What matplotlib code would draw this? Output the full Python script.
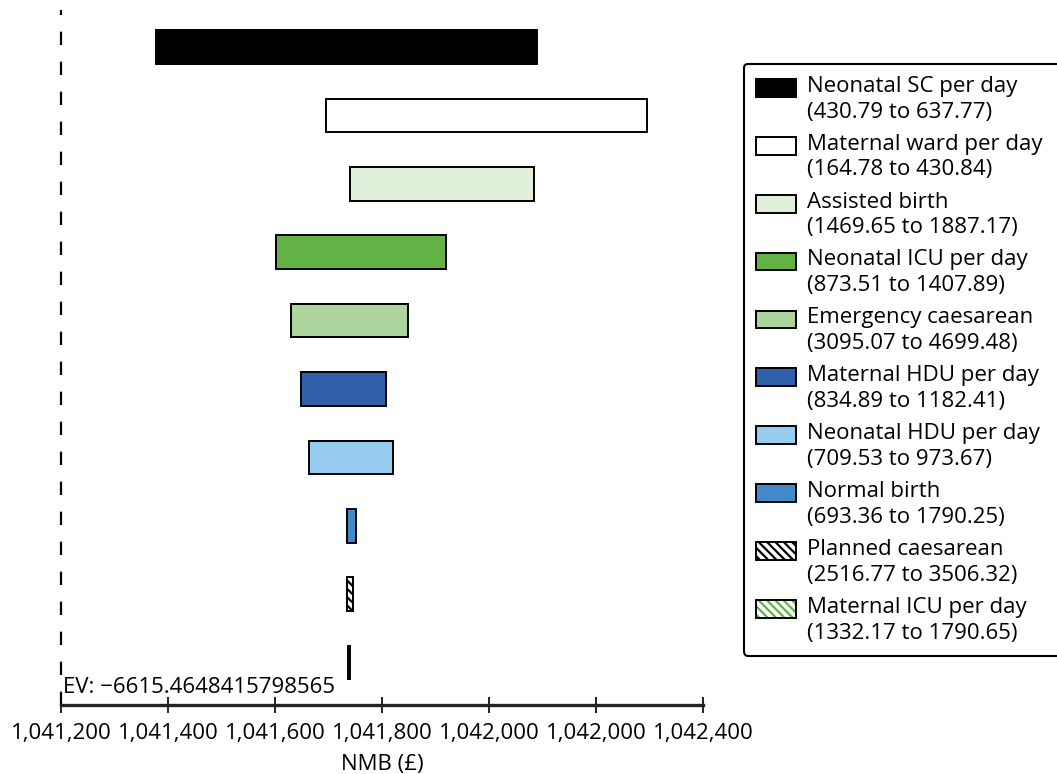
import matplotlib
matplotlib.use("Agg")
import matplotlib.pyplot as plt
from matplotlib.patches import Rectangle
from matplotlib.legend_handler import HandlerBase
from matplotlib.transforms import blended_transform_factory

plt.rcParams['font.family'] = ['Open Sans', 'DejaVu Sans']
plt.rcParams['hatch.linewidth'] = 1.6

# ---------------- data ----------------
parameters = ["Neonatal SC per day", "Maternal ward per day", "Assisted birth",
              "Neonatal ICU per day", "Emergency caesarean", "Maternal HDU per day",
              "Neonatal HDU per day", "Normal birth", "Planned caesarean",
              "Maternal ICU per day"]
ranges = ["(430.79 to 637.77)", "(164.78 to 430.84)", "(1469.65 to 1887.17)",
          "(873.51 to 1407.89)", "(3095.07 to 4699.48)", "(834.89 to 1182.41)",
          "(709.53 to 973.67)", "(693.36 to 1790.25)", "(2516.77 to 3506.32)",
          "(1332.17 to 1790.65)"]
nmb_low = [1041377, 1041695, 1041740, 1041602, 1041630, 1041648,
           1041664, 1041734, 1041734, 1041736]
nmb_high = [1042090, 1042295, 1042084, 1041919, 1041848, 1041808,
            1041821, 1041751, 1041745, 1041741]
tick_values = [1041200, 1041400, 1041600, 1041800, 1042000, 1042200, 1042400]
tick_labels = ["1,041,200", "1,041,400", "1,041,600", "1,041,800",
               "1,042,000", "1,042,000", "1,042,400"]
ev_label = "EV: \u22126615.4648415798565"
x_label = "NMB (\u00a3)"

# ---------------- styles ----------------
face_colors = ["#000000", "#ffffff", "#e0efda", "#62b246", "#acd49c",
               "#3060ac", "#96cdee", "#4189cb", "#ffffff", "#ffffff"]
hatches = [None, None, None, None, None, None, None, None, "\\\\\\\\", "\\\\\\\\"]
hatch_colors = [None, None, None, None, None, None, None, None, "#000000", "#62b246"]
EDGE_LW = 1.4

W, H, DPI = 10.57, 7.74, 100
fig = plt.figure(figsize=(W, H), dpi=DPI)
ax = fig.add_axes([61 / 1057, 1 - 705 / 774, (703 - 61) / 1057, (705 - 10) / 774])

ypos = list(range(len(parameters)))
bar_h = 0.49
for i in ypos:
    lo, hi = nmb_low[i], nmb_high[i]
    if hatches[i]:
        ax.barh(i, hi - lo, left=lo, height=bar_h, color=face_colors[i],
                edgecolor=hatch_colors[i], hatch=hatches[i], linewidth=0)
        ax.barh(i, hi - lo, left=lo, height=bar_h, fill=False,
                edgecolor="black", linewidth=EDGE_LW)
    else:
        ax.barh(i, hi - lo, left=lo, height=bar_h, color=face_colors[i],
                edgecolor="black", linewidth=EDGE_LW)

ax.set_xlim(tick_values[0], tick_values[-1])
ax.set_ylim(9.621, -0.541)

# dashed reference line at left edge
ax.axvline(tick_values[0], color="black", linestyle=(0, (6, 7.5)), linewidth=1.6,
           clip_on=False)

for s in ["top", "right", "left"]:
    ax.spines[s].set_visible(False)
ax.spines["bottom"].set_linewidth(2.4)
ax.spines["bottom"].set_color("#222222")
ax.set_yticks([])
ax.set_xticks(tick_values, tick_labels)
ax.tick_params(axis="x", direction="inout", length=12, width=1.4, pad=7,
               labelsize=16, color="#222222")
ax.set_xlabel(x_label, fontsize=16, labelpad=7)

trans = blended_transform_factory(ax.transData, ax.transAxes)
ax.text(tick_values[0] + 4, 0.01, ev_label, transform=trans, fontsize=16,
        ha="left", va="bottom")

# ---------------- legend ----------------
FS = 16
SHIFT_PT = 8.3
HANDLE_H_PT = 12.8


class BarHandler(HandlerBase):
    def create_artists(self, legend, orig_handle, xdescent, ydescent, width,
                       height, fontsize, trans):
        face, hatch, hc = orig_handle.spec
        y0 = -ydescent + (height - HANDLE_H_PT) / 2 + SHIFT_PT
        arts = []
        if hatch:
            arts.append(Rectangle((-xdescent, y0), width, HANDLE_H_PT,
                                  facecolor=face, edgecolor=hc, hatch=hatch,
                                  linewidth=0, transform=trans))
            arts.append(Rectangle((-xdescent, y0), width, HANDLE_H_PT,
                                  fill=False, edgecolor="black",
                                  linewidth=EDGE_LW, transform=trans))
        else:
            arts.append(Rectangle((-xdescent, y0), width, HANDLE_H_PT,
                                  facecolor=face, edgecolor="black",
                                  linewidth=EDGE_LW, transform=trans))
        return arts


proxies = []
labels = []
for i in ypos:
    r = Rectangle((0, 0), 1, 1)
    r.spec = (face_colors[i], hatches[i], hatch_colors[i])
    proxies.append(r)
    labels.append(parameters[i] + "\n" + ranges[i])

leg = fig.legend(proxies, labels, handler_map={Rectangle: BarHandler()},
                 loc="upper left",
                 bbox_to_anchor=(744 / 1057, 1 - 63.5 / 774, (1090 - 744) / 1057, 0),
                 mode="expand", borderaxespad=0, fontsize=FS,
                 handlelength=1.8, handletextpad=0.47, borderpad=0.55,
                 labelspacing=0.5, frameon=True, fancybox=True)
leg.get_frame().set_edgecolor("black")
leg.get_frame().set_linewidth(1.5)
leg.get_frame().set_alpha(1)
for t in leg.get_texts():
    t.set_linespacing(1.3)

fig.savefig("out.png", dpi=DPI)
